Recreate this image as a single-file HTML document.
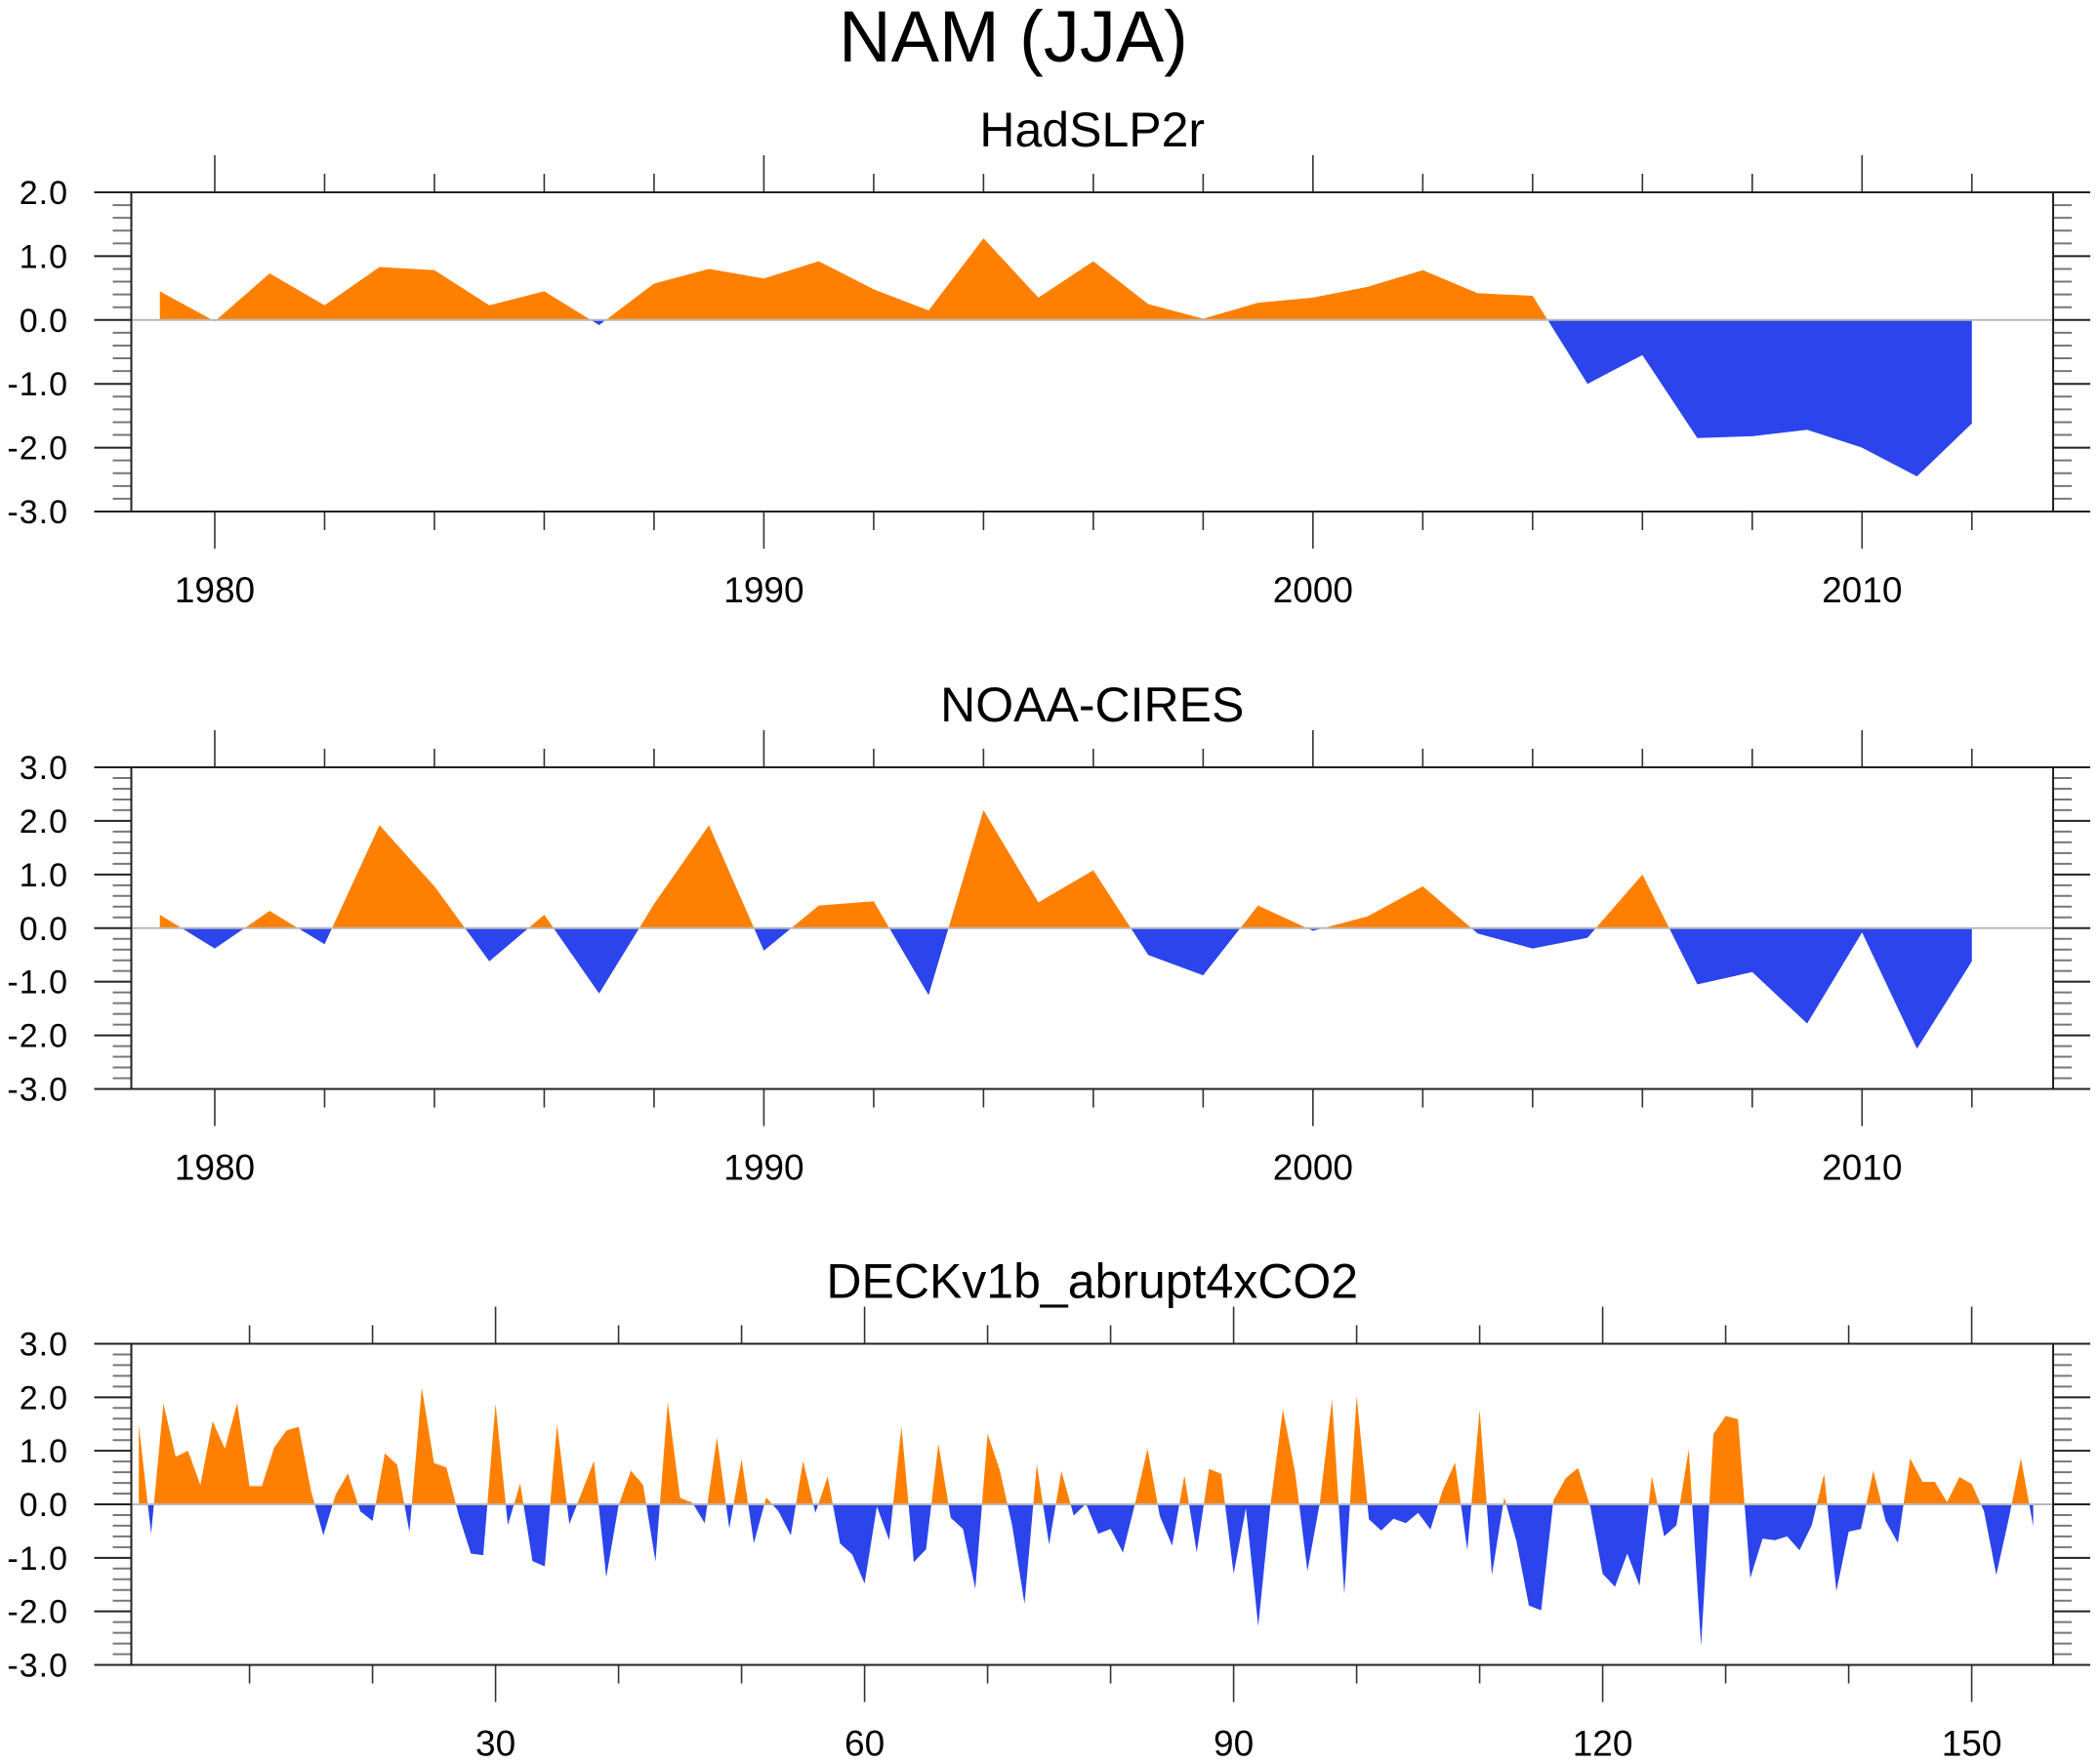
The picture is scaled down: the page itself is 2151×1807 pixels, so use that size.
<!DOCTYPE html>
<html>
<head>
<meta charset="utf-8">
<style>
  html, body { margin: 0; padding: 0; background: #fff; }
  svg { display: block; }
  text { font-family: "Liberation Sans", "DejaVu Sans", sans-serif; fill: #000; }
</style>
</head>
<body>
<svg id="chart" width="2151" height="1807" viewBox="0 0 2151 1807" xmlns="http://www.w3.org/2000/svg">
  <rect x="0" y="0" width="2151" height="1807" fill="#fff"/>
  <text x="1038" y="63" font-size="74" text-anchor="middle">NAM (JJA)</text>
</svg>
<script>
// ---- data ----
const years = [1979,1980,1981,1982,1983,1984,1985,1986,1987,1988,1989,1990,1991,1992,1993,1994,1995,1996,1997,1998,1999,2000,2001,2002,2003,2004,2005,2006,2007,2008,2009,2010,2011,2012];
const hadslpValues = [0.45,-0.02,0.73,0.23,0.83,0.78,0.23,0.45,-0.08,0.57,0.80,0.65,0.92,0.48,0.15,1.28,0.35,0.92,0.25,0.02,0.27,0.35,0.52,0.78,0.42,0.38,-1.0,-0.55,-1.85,-1.82,-1.72,-2.0,-2.45,-1.62];
const noaaValues = [0.25,-0.38,0.32,-0.3,1.92,0.78,-0.62,0.25,-1.22,0.45,1.92,-0.42,0.42,0.50,-1.25,2.2,0.48,1.08,-0.5,-0.88,0.42,-0.05,0.22,0.78,-0.1,-0.38,-0.18,1.0,-1.05,-0.82,-1.78,-0.08,-2.25,-0.62];
const deckValues = [1.48,-0.55,1.88,0.89,1.0,0.36,1.55,1.04,1.89,0.34,0.34,1.06,1.38,1.45,0.25,-0.58,0.18,0.58,-0.13,-0.31,
  0.95,0.74,-0.52,2.18,0.77,0.69,-0.2,-0.92,-0.95,1.88,-0.39,0.39,-1.06,-1.16,1.49,-0.37,0.22,0.81,-1.36,-0.02,
  0.63,0.36,-1.07,1.91,0.12,0.03,-0.35,1.25,-0.45,0.84,-0.73,0.13,-0.13,-0.58,0.81,-0.16,0.52,-0.73,-0.94,-1.48,
  -0.04,-0.67,1.45,-1.08,-0.84,1.13,-0.25,-0.46,-1.58,1.32,0.63,-0.4,-1.86,0.75,-0.75,0.62,-0.21,0.01,-0.55,-0.46,
  -0.9,0.03,1.04,-0.22,-0.77,0.54,-0.9,0.66,0.57,-1.3,-0.07,-2.28,0.0,1.77,0.6,-1.25,0.02,1.96,-1.68,2.02,
  -0.28,-0.49,-0.27,-0.35,-0.16,-0.47,0.27,0.78,-0.86,1.77,-1.32,0.13,-0.7,-1.89,-1.98,0.08,0.49,0.68,-0.05,-1.3,
  -1.54,-0.92,-1.52,0.52,-0.6,-0.39,1.03,-2.65,1.31,1.65,1.59,-1.38,-0.64,-0.67,-0.6,-0.86,-0.39,0.57,-1.62,-0.51,
  -0.46,0.63,-0.31,-0.72,0.86,0.42,0.42,0.04,0.51,0.38,-0.13,-1.32,-0.28,0.86,-0.41];
const deckIndex = deckValues.map((v, i) => i + 1);
const yearTickLabels = ["1980","1990","2000","2010"];
const deckTickLabels = ["30","60","90","120","150"];
const panelTitles = ["HadSLP2r","NOAA-CIRES","DECKv1b_abrupt4xCO2"];

// ---- layout ----
const NS = "http://www.w3.org/2000/svg";
const svg = document.getElementById('chart');
const L = 134.5, R = 2103;
const ORANGE = "#FF8000", BLUE = "#2B44EC";

function mk(tag, attrs, parent) {
  const e = document.createElementNS(NS, tag);
  for (const k in attrs) e.setAttribute(k, attrs[k]);
  (parent || svg).appendChild(e);
  return e;
}

const panels = [
  { key: "hadslp", title: panelTitles[0], top: 197, bottom: 524, ymin: -3, ymax: 2, xmin: 1978.48, xmax: 2013.48,
    xs: years, ys: hadslpValues, majorStep: 10, majorStart: 1980, minorStep: 2, labels: yearTickLabels },
  { key: "noaa", title: panelTitles[1], top: 786, bottom: 1115.5, ymin: -3, ymax: 3, xmin: 1978.48, xmax: 2013.48,
    xs: years, ys: noaaValues, majorStep: 10, majorStart: 1980, minorStep: 2, labels: yearTickLabels },
  { key: "deck", title: panelTitles[2], top: 1376.5, bottom: 1705.5, ymin: -3, ymax: 3, xmin: 0.39, xmax: 156.62,
    xs: deckIndex, ys: deckValues, majorStep: 30, majorStart: 30, minorStep: 10, labels: deckTickLabels }
];

panels.forEach((p, pi) => {
  const g = mk('g', {});
  
  
  const xS = v => L + (v - p.xmin) / (p.xmax - p.xmin) * (R - L);
  const yS = v => p.bottom - (v - p.ymin) / (p.ymax - p.ymin) * (p.bottom - p.top);
  const y0 = yS(0);

  const t = mk('text', { x: (L + R) / 2, y: p.top - 47, 'font-size': 50, 'text-anchor': 'middle' }, g);
  
  
  t.textContent = p.title;

  const defs = mk('defs', {}, g);
  const cpA = mk('clipPath', { id: 'ca' + pi }, defs);
  mk('rect', { x: L, y: p.top, width: R - L, height: y0 - p.top }, cpA);
  const cpB = mk('clipPath', { id: 'cb' + pi }, defs);
  mk('rect', { x: L, y: y0, width: R - L, height: p.bottom - y0 }, cpB);

  let pts = xS(p.xs[0]).toFixed(2) + ',' + y0.toFixed(2) + ' ';
  p.xs.forEach((xv, i) => { pts += xS(xv).toFixed(2) + ',' + yS(p.ys[i]).toFixed(2) + ' '; });
  pts += xS(p.xs[p.xs.length - 1]).toFixed(2) + ',' + y0.toFixed(2);
  const pos = mk('polygon', { points: pts, fill: ORANGE, 'clip-path': 'url(#ca' + pi + ')' }, g);
  
  
  const neg = mk('polygon', { points: pts, fill: BLUE, 'clip-path': 'url(#cb' + pi + ')' }, g);
  
  

  const zl = mk('line', { x1: L, x2: R, y1: y0, y2: y0, stroke: '#b8b8b8', 'stroke-width': 2 }, g);
  
  

  const nMinor = Math.round((p.ymax - p.ymin) / 0.2);
  for (let k = 0; k <= nMinor; k++) {
    const v = p.ymin + k * 0.2;
    const yy = yS(v);
    const major = k % 5 === 0;
    const len = major ? 38 : 19;
    mk('line', { x1: L - len, x2: L, y1: yy, y2: yy, stroke: major ? '#222' : '#777', 'stroke-width': 2 }, g);
    mk('line', { x1: R, x2: R + len, y1: yy, y2: yy, stroke: major ? '#222' : '#777', 'stroke-width': 2 }, g);
    if (major) {
      const lab = mk('text', { x: 70, y: yy + 12, 'font-size': 34, 'text-anchor': 'end', 'letter-spacing': '1' }, g);
      
      
      lab.textContent = v.toFixed(1);
    }
  }

  const startMinor = Math.ceil(p.xmin / p.minorStep) * p.minorStep;
  for (let v = startMinor; v <= p.xmax; v += p.minorStep) {
    const xx = xS(v);
    const major = ((v - p.majorStart) % p.majorStep + p.majorStep) % p.majorStep === 0;
    const len = major ? 38 : 19;
    mk('line', { x1: xx, x2: xx, y1: p.top - len, y2: p.top, stroke: '#333', 'stroke-width': 1.6 }, g);
    mk('line', { x1: xx, x2: xx, y1: p.bottom, y2: p.bottom + len, stroke: '#333', 'stroke-width': 1.6 }, g);
  }
  p.labels.forEach(s => {
    const v = parseFloat(s);
    const lab = mk('text', { x: xS(v), y: p.bottom + 93, 'font-size': 37, 'text-anchor': 'middle' }, g);
    
    
    lab.textContent = s;
  });

  const fr = mk('rect', { x: L, y: p.top, width: R - L, height: p.bottom - p.top, fill: 'none', stroke: '#222', 'stroke-width': 2 }, g);
  
  
});
</script>
</body>
</html>
